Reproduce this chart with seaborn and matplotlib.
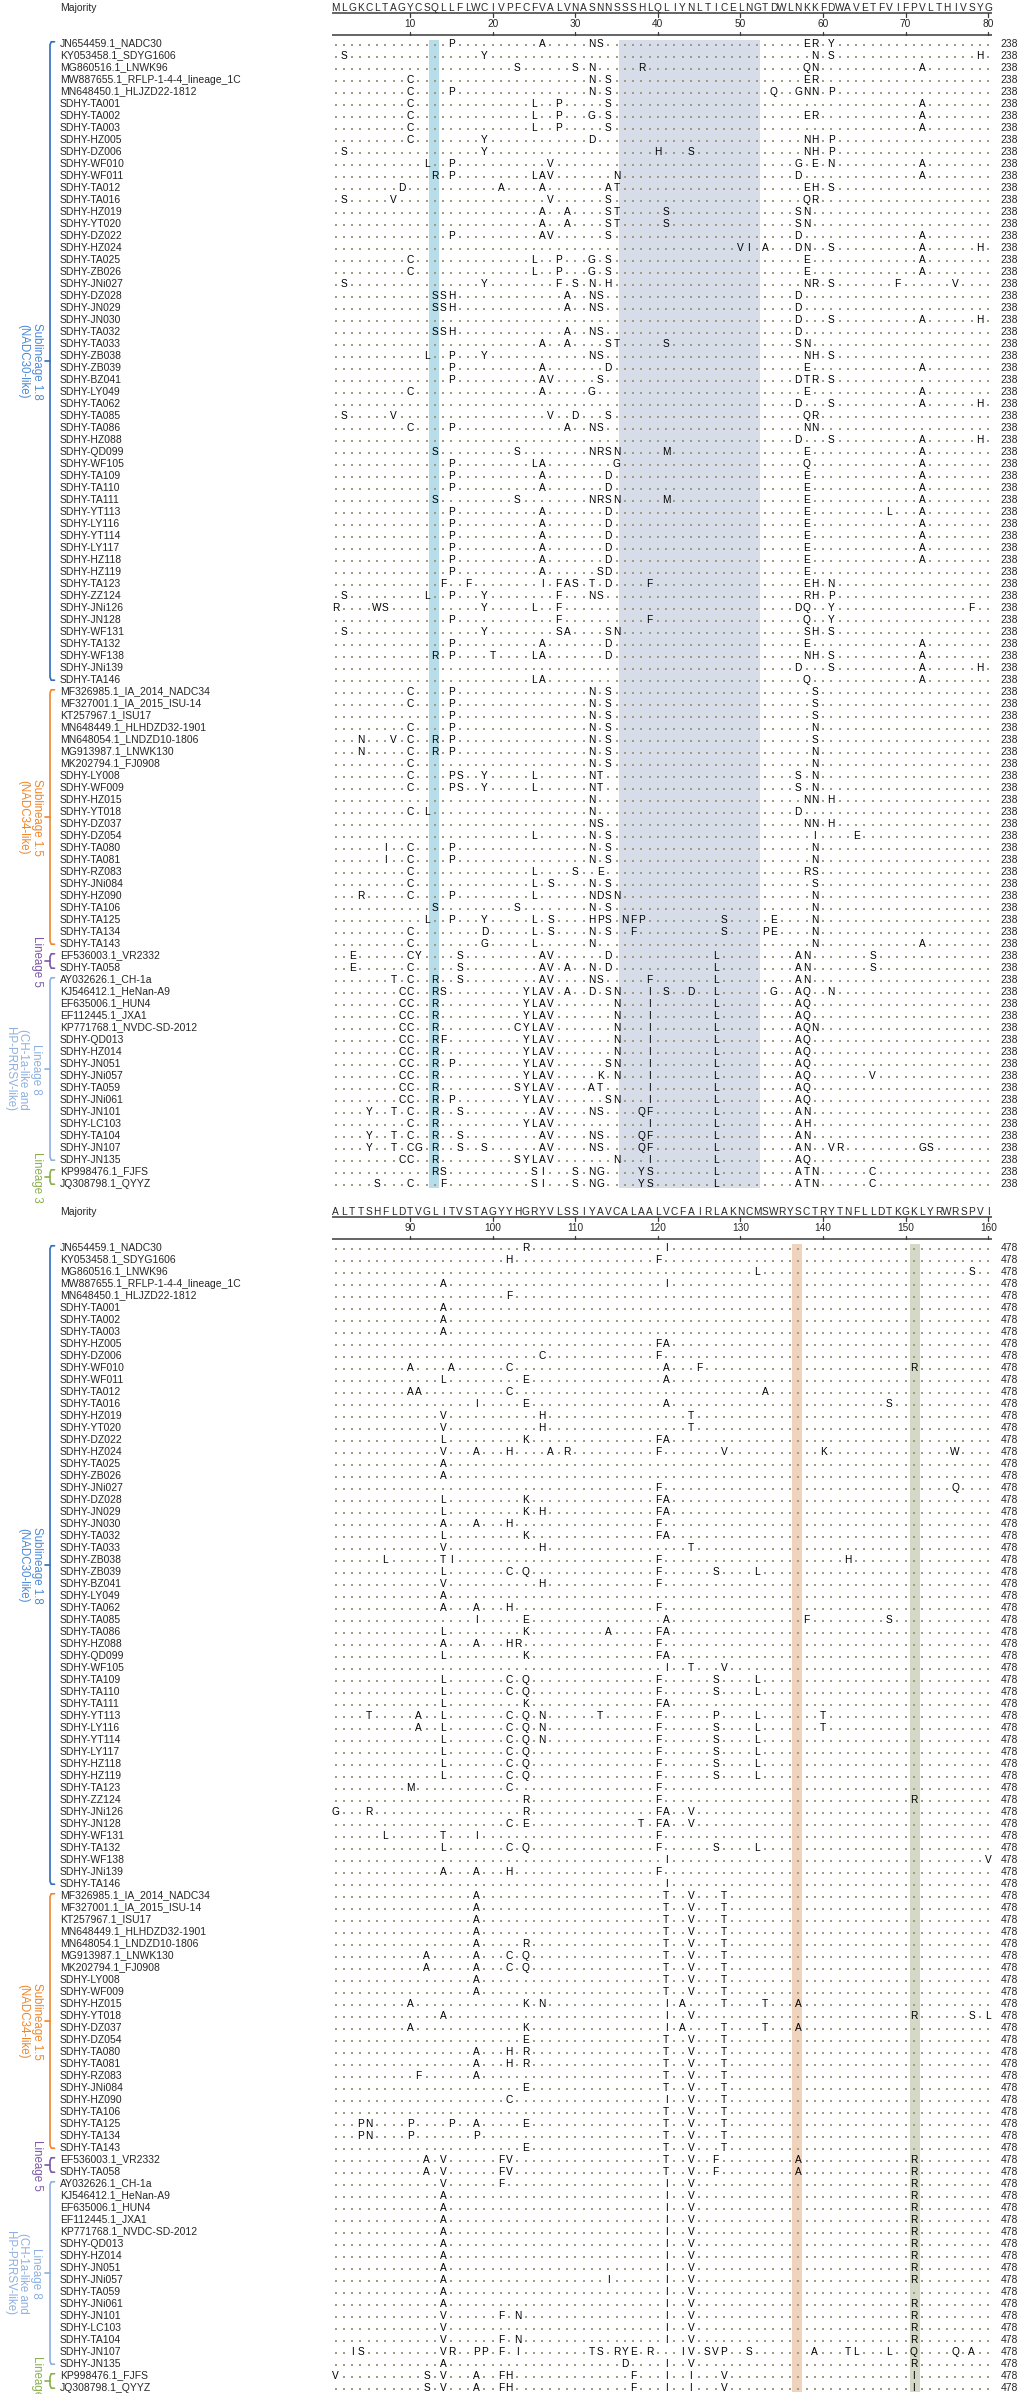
import numpy as np
import pandas as pd
import matplotlib.pyplot as plt
import seaborn as sns

# ------------------------------------------------------------
# Data
# ------------------------------------------------------------

majority_top = "MLGKCLTAGYCSQLLFLWCIVPFCFVALVNASNNSSSHLQLIYNLTICELNGTDWLNKKFDWAVETFVIFPVLTHIVSYG"
majority_bottom = "ALTTSHFLDTVGLITVSTAGYYHGRYVLSSIYAVCALAALVCFAIRLAKNCMSWRYSCTRYTNFLLDTKGKLYRWRSPVI"

end_top = "238"
end_bottom = "478"

names = [
    "JN654459.1_NADC30", "KY053458.1_SDYG1606", "MG860516.1_LNWK96",
    "MW887655.1_RFLP-1-4-4_lineage_1C", "MN648450.1_HLJZD22-1812",
    "SDHY-TA001", "SDHY-TA002", "SDHY-TA003", "SDHY-HZ005", "SDHY-DZ006",
    "SDHY-WF010", "SDHY-WF011", "SDHY-TA012", "SDHY-TA016", "SDHY-HZ019",
    "SDHY-YT020", "SDHY-DZ022", "SDHY-HZ024", "SDHY-TA025", "SDHY-ZB026",
    "SDHY-JNi027", "SDHY-DZ028", "SDHY-JN029", "SDHY-JN030", "SDHY-TA032",
    "SDHY-TA033", "SDHY-ZB038", "SDHY-ZB039", "SDHY-BZ041", "SDHY-LY049",
    "SDHY-TA062", "SDHY-TA085", "SDHY-TA086", "SDHY-HZ088", "SDHY-QD099",
    "SDHY-WF105", "SDHY-TA109", "SDHY-TA110", "SDHY-TA111", "SDHY-YT113",
    "SDHY-LY116", "SDHY-YT114", "SDHY-LY117", "SDHY-HZ118", "SDHY-HZ119",
    "SDHY-TA123", "SDHY-ZZ124", "SDHY-JNi126", "SDHY-JN128", "SDHY-WF131",
    "SDHY-TA132", "SDHY-WF138", "SDHY-JNi139", "SDHY-TA146",
    "MF326985.1_IA_2014_NADC34", "MF327001.1_IA_2015_ISU-14", "KT257967.1_ISU17",
    "MN648449.1_HLHDZD32-1901", "MN648054.1_LNDZD10-1806", "MG913987.1_LNWK130",
    "MK202794.1_FJ0908", "SDHY-LY008", "SDHY-WF009", "SDHY-HZ015", "SDHY-YT018",
    "SDHY-DZ037", "SDHY-DZ054", "SDHY-TA080", "SDHY-TA081", "SDHY-RZ083",
    "SDHY-JNi084", "SDHY-HZ090", "SDHY-TA106", "SDHY-TA125", "SDHY-TA134",
    "SDHY-TA143",
    "EF536003.1_VR2332", "SDHY-TA058",
    "AY032626.1_CH-1a", "KJ546412.1_HeNan-A9", "EF635006.1_HUN4", "EF112445.1_JXA1",
    "KP771768.1_NVDC-SD-2012", "SDHY-QD013", "SDHY-HZ014", "SDHY-JN051",
    "SDHY-JNi057", "SDHY-TA059", "SDHY-JNi061", "SDHY-JN101", "SDHY-LC103",
    "SDHY-TA104", "SDHY-JN107", "SDHY-JN135",
    "KP998476.1_FJFS", "JQ308798.1_QYYZ",
]

# residues differing from the majority, positions 1-80
top_mut = [
    "P15 A26 N32 S33 E58 R59 Y61",
    "S2 Y19 N59 S61 H79",
    "S23 S30 N32 R38 Q58 N59 A72",
    "C10 N32 S34 E58 R59",
    "C10 P15 N32 S34 Q54 G57 N58 N59 P61",
    "C10 L25 P28 S34 A72",
    "C10 L25 P28 G32 S34 E58 R59 A72",
    "C10 L25 P28 S34 A72",
    "C10 Y19 D32 N58 H59 P61",
    "S2 Y19 H40 S44 N58 H59 P61",
    "L12 P15 V27 G57 E59 N61 A72",
    "R13 P15 L25 A26 V27 N35 D57 A72",
    "D9 A21 A26 A34 T35 E58 H59 S61",
    "S2 V8 V27 S34 Q58 R59",
    "A26 A29 S34 T35 S41 S57 N58",
    "A26 A29 S34 T35 S41 S57 N58",
    "P15 A26 V27 S34 D57 A72",
    "V50 I51 A53 D57 N58 S61 A72 H79",
    "C10 L25 P28 G32 S34 E58 A72",
    "C10 L25 P28 G32 S34 E58 A72",
    "S2 Y19 F28 S30 N32 H34 N58 R59 S61 F69 V76",
    "S13 S14 H15 A29 N32 S33 D57",
    "S13 S14 H15 A29 N32 S33 D57",
    "D57 S61 A72 H79",
    "S13 S14 H15 A29 N32 S33 D57",
    "A26 A29 S34 T35 S41 S57 N58",
    "L12 P15 Y19 N32 S33 N58 H59 S61",
    "P15 A26 D34 E58 A72",
    "P15 A26 V27 S33 D57 T58 R59 S61",
    "C10 A26 G32 E58 A72",
    "D57 S61 A72 H79",
    "S2 V8 V27 D30 S34 Q58 R59",
    "C10 P15 A29 N32 S33 N58 N59",
    "D57 S61 A72 H79",
    "S13 S23 N32 R33 S34 N35 M41 E58 A72",
    "P15 L25 A26 G35 Q58 A72",
    "P15 A26 D34 E58 A72",
    "P15 A26 D34 E58 A72",
    "S13 S23 N32 R33 S34 N35 M41 E58 A72",
    "P15 A26 D34 E58 L68 A72",
    "P15 A26 D34 E58 A72",
    "P15 A26 D34 E58 A72",
    "P15 A26 D34 E58 A72",
    "P15 A26 D34 E58 A72",
    "P15 A26 S33 D34 E58",
    "F14 F17 I26 F28 A29 S30 T32 D34 F39 E58 H59 N61",
    "S2 L12 P15 Y19 F28 N32 S33 R58 H59 P61",
    "R1 W6 S7 Y19 L25 F28 D57 Q58 Y61 F78",
    "P15 F28 F39 Q58 Y61",
    "S2 Y19 S28 A29 S34 N35 S58 H59 S61",
    "P15 A26 D34 E58 A72",
    "R13 P15 T20 L25 A26 D34 N58 H59 S61 A72",
    "D57 S61 A72 H79",
    "L25 A26 Q58 A72",
    "C10 P15 N32 S34 S59",
    "C10 P15 N32 S34 S59",
    "P15 N32 S34 S59",
    "C10 P15 N32 S34 N59",
    "N4 V8 C10 R13 P15 N32 S34 S59",
    "N4 C10 R13 P15 N32 S34 N59",
    "C10 N32 S34 N59",
    "C10 P15 S16 Y19 L25 N32 T33 S57 N59",
    "C10 P15 S16 Y19 L25 N32 T33 S57 N59",
    "N32 N58 N59 H61",
    "C10 L12 N32 D57",
    "N32 S33 N58 N59 H61",
    "L25 N32 S34 I59 E64",
    "I7 C10 P15 N32 S34 N59",
    "I7 C10 P15 N32 S34 N59",
    "C10 L25 S30 E33 R58 S59",
    "C10 L25 S27 N32 S34 S59",
    "R4 C10 P15 L25 N32 D33 S34 N35 N59",
    "S13 S23 N32 S34 N59",
    "L12 P15 Y19 L25 S27 H32 P33 S34 N36 F37 P38 S48 E54 N59",
    "C10 D19 L25 S27 N32 S34 F37 S48 P53 E54 N59",
    "C10 G19 L25 N32 N59 A72",
    "E3 C10 Y11 S16 A26 V27 D34 L47 A57 N58 S66",
    "E3 C10 S16 A26 V27 A29 N32 D34 L47 A57 N58 S66",
    "T8 C10 R13 S16 A26 V27 N32 S33 F39 L47 A57 N58",
    "C9 C10 R13 S14 Y24 L25 A26 V27 A29 D32 S34 N35 I39 S41 D44 L47 G54 A57 Q58 N61",
    "C9 C10 R13 Y24 L25 A26 V27 N35 I39 L47 A57 Q58",
    "C9 C10 R13 Y24 L25 A26 V27 N35 I39 L47 A57 Q58",
    "C9 C10 R13 C23 Y24 L25 A26 V27 N35 I39 L47 A57 Q58 N59",
    "C9 C10 R13 F14 Y24 L25 A26 V27 N35 I39 L47 A57 Q58",
    "C9 C10 R13 Y24 L25 A26 V27 N35 I39 L47 A57 Q58",
    "C9 C10 R13 P15 Y24 L25 A26 V27 S34 N35 I39 L47 A57 Q58",
    "C9 C10 R13 Y24 L25 A26 V27 K33 N35 I39 L47 A57 Q58 V66",
    "C9 C10 R13 S23 Y24 L25 A26 V27 A32 T33 I39 L47 A57 Q58",
    "C9 C10 R13 P15 Y24 L25 A26 V27 S34 N35 I39 L47 A57 Q58",
    "Y5 T8 C10 R13 S16 A26 V27 N32 S33 Q38 F39 L47 A57 N58",
    "C10 R13 Y24 L25 A26 V27 I39 L47 A57 H58",
    "Y5 T8 C10 R13 S16 A26 V27 N32 S33 Q38 F39 L47 A57 N58",
    "Y5 T8 C10 G11 R13 S16 S19 A26 V27 N32 S33 Q38 F39 L47 A57 N58 V61 R62 G72 S73",
    "C9 C10 R13 S23 Y24 L25 A26 V27 N35 I39 L47 A57 Q58",
    "R13 S14 S25 I26 S30 N32 G33 Y38 S39 L47 A57 T58 N59 C66",
    "S6 C10 F14 S25 I26 S30 N32 G33 Y38 S39 L47 A57 T58 N59 C66",
]

# residues differing from the majority, positions 81-160
bottom_mut = [
    "R104 I121",
    "H102 F120",
    "L132 S158",
    "A94 I121",
    "F102",
    "A94",
    "A94",
    "A94",
    "F120 A121",
    "C106 F120",
    "A90 A95 C102 A121 F125 R151",
    "L94 E104 A121",
    "A90 A91 C102 A133",
    "I98 E104 A121 S148",
    "V94 H106 T124",
    "V94 H106 T124",
    "L94 K104 F120 A121",
    "V94 A98 H102 A107 R109 F120 V128 K140 W156",
    "A94",
    "A94",
    "F120 Q156",
    "L94 K104 F120 A121",
    "L94 K104 H106 F120 A121",
    "A94 A98 H102 F120",
    "L94 K104 F120 A121",
    "V94 H106 T124",
    "L87 T94 I95 F120 H143",
    "L94 C102 Q104 F120 S127 L132",
    "V94 H106 F120",
    "A94",
    "A94 A98 H102 F120",
    "I98 E104 A121 F138 S148",
    "L94 K104 A114 F120 A121",
    "A94 A98 H102 R103 F120",
    "L94 K104 F120 A121",
    "I121 T124 V128",
    "L94 C102 Q104 F120 S127 L132",
    "L94 C102 Q104 F120 S127 L132",
    "L94 K104 F120 A121",
    "T85 A91 L94 C102 Q104 N106 T113 F120 P127 L132 T140",
    "A91 L94 C102 Q104 N106 F120 S127 L132 T140",
    "L94 C102 Q104 N106 F120 S127 L132",
    "L94 C102 Q104 F120 S127 L132",
    "L94 C102 Q104 F120 S127 L132",
    "L94 C102 Q104 F120 S127 L132",
    "M90 C102 F120",
    "R104 F120 R151",
    "G81 R85 R104 F120 A121 V124",
    "C102 E104 T118 F120 A121 V124",
    "L87 T94 I98 F120",
    "L94 C102 Q104 F120 S127 L132",
    "I121 V160",
    "A94 A98 H102 F120",
    "I121",
    "A98 T121 V124 T128",
    "A98 T121 V124 T128",
    "A98 T121 V124 T128",
    "A98 T121 V124 T128",
    "A98 R104 T121 V124 T128",
    "A92 A98 C102 Q104 T121 V124 T128",
    "A92 A98 C102 Q104 T121 V124 T128",
    "A98 T121 V124 T128",
    "A98 T121 V124 T128",
    "A90 K104 N106 I121 A123 T128 T133 A137",
    "A94 I121 V124 R151 S158 L160",
    "A90 K104 I121 A123 T128 T133 A137",
    "E104 T121 V124 T128",
    "A98 H102 R104 T121 V124 T128",
    "A98 H102 R104 T121 V124 T128",
    "F91 A98 T121 V124 T128",
    "E104 T121 V124 T128",
    "C102 I121 V124 T128",
    "T121 V124 T128",
    "P84 N85 P90 P95 A98 E104 T121 V124 T128",
    "P84 N85 P90 P98 T121 V124 T128",
    "E104 T121 V124 T128",
    "A92 V94 F101 V102 T121 V124 F127 A137 R151",
    "A92 V94 F101 V102 T121 V124 F127 A137 R151",
    "V94 F101 I121 V124 R151",
    "A94 I121 V124 R151",
    "A94 I121 V124 R151",
    "A94 I121 V124 R151",
    "A94 I121 V124 R151",
    "A94 I121 V124 R151",
    "A94 I121 V124 R151",
    "A94 I121 V124 R151",
    "A94 I114 I121 V124 R151",
    "A94 I121 V124",
    "A94 I121 V124 R151",
    "V94 F101 N103 I121 V124 R151",
    "V94 I121 V124 R151",
    "V94 F101 N103 I121 V124 R151",
    "I83 S84 V94 R95 P98 P99 F101 I103 T112 S113 R115 Y116 E117 R119 I123 V124 "
    "S126 V127 P128 S131 A139 T143 L144 L148 Q151 Q156 A158",
    "A94 D116 I121 V124 R151",
    "V81 S92 V94 A98 F101 H102 F117 I121 I124 V128 I151",
    "S92 V94 A98 F101 H102 F117 I121 I124 V128 I151",
]

group_labels = [
    "Sublineage 1.8\n(NADC30-like)",
    "Sublineage 1.5\n(NADC34-like)",
    "Lineage 5",
    "Lineage 8\n(CH-1a-like and\nHP-PRRSV-like)",
    "Lineage 3",
]
group_first = [1, 55, 77, 79, 95]
group_last = [54, 76, 78, 94, 96]
group_line_colors = ["#2f6dbf", "#f0862a", "#7a58a8", "#8db0e0", "#89b04a"]
group_text_colors = ["#4b89d9", "#f0862a", "#7a58a8", "#8db0e0", "#89b04a"]

# highlighted columns
top_bands = [(12.35, 13.55, "#b6dde9"), (35.3, 52.4, "#d6dce8")]
bottom_bands = [(136.25, 137.45, "#f0d3bd"), (150.5, 151.75, "#d3d8c7")]

# ------------------------------------------------------------
# Style
# ------------------------------------------------------------

sns.set_style("white")
plt.rcParams["font.family"] = ["Liberation Sans", "DejaVu Sans"]

DOT = "#a39c82"
LINE = "#3a3a3a"
FS = 7.3
PX0, PITCH = 335.7, 8.26          # pixel of column 1, pixels per column
N_ROWS = len(names)


def parse(s):
    out = {}
    for tok in s.split():
        out[int(tok[1:])] = tok[0]
    return out


def draw_panel(ax, majority, start, mutations, end_label, bands):
    def X(px):
        return start + (px - PX0) / PITCH

    positions = np.arange(start, start + len(majority))
    muts = [parse(m) for m in mutations]

    # background bands
    for x0, x1, col in bands:
        ax.fill_betweenx([0.75, N_ROWS + 0.45], x0, x1, color=col, lw=0, zorder=0)

    # identity dots
    dot_rows = []
    for r, m in enumerate(muts, start=1):
        for p in positions:
            if p not in m:
                dot_rows.append((p, r + 0.2))
    dots = pd.DataFrame(dot_rows, columns=["pos", "row"])
    sns.scatterplot(data=dots, x="pos", y="row", marker="s", s=1.1,
                    color=DOT, linewidth=0, legend=False, ax=ax, zorder=2)

    # substitutions
    for r, m in enumerate(muts, start=1):
        for p, aa in m.items():
            ax.text(p, r + 0.3, aa, ha="center", va="baseline",
                    fontsize=FS, color="black", zorder=3)

    # names and sequence length
    for r, nm in enumerate(names, start=1):
        ax.text(X(60), r + 0.3, nm, ha="left", va="baseline", fontsize=7.5)
        ax.text(X(1009), r + 0.3, end_label, ha="center", va="baseline", fontsize=7.5)

    # header: majority sequence and ruler
    ax.text(X(60), -2.0 + 0.3, "Majority", ha="left", va="baseline", fontsize=7.5)
    for p, aa in zip(positions, majority):
        ax.text(p, -2.0 + 0.3, aa, ha="center", va="baseline", fontsize=FS)
    xa, xb = X(331.5), X(992)
    ax.plot([xa, xb], [-1.48, -1.48], color=LINE, lw=1.1, solid_capstyle="butt")
    ax.plot([xa, xb], [0.33, 0.33], color=LINE, lw=1.1, solid_capstyle="butt")
    for p in positions:
        if p % 10 == 0:
            ax.plot([p, p], [-1.48, -1.2], color=LINE, lw=0.9)
            ax.plot([p, p], [0.33, 0.08], color=LINE, lw=0.9)
            ax.text(p, -0.67 + 0.3, str(p), ha="center", va="baseline", fontsize=FS)

    # lineage brackets
    xl, xh, xm = X(50), X(54.5), X(45)
    for lab, r0, r1, lc, tc in zip(group_labels, group_first, group_last,
                                   group_line_colors, group_text_colors):
        ys = [r0 - 0.1, r0 - 0.1, r0 + 0.15, r1 - 0.15, r1 + 0.1, r1 + 0.1]
        xs = [xh, xl + 0.15, xl, xl, xl + 0.15, xh]
        ax.plot(xs, ys, color=lc, lw=1.2, solid_joinstyle="round")
        mid = (r0 + r1) / 2
        ax.plot([xl, xm], [mid, mid], color=lc, lw=1.2)
        nlines = lab.count("\n") + 1
        ax.text(X(37 - 7 * (nlines - 1)), mid, lab, rotation=270,
                ha="center", va="center", multialignment="center",
                fontsize=8.3, color=tc, linespacing=1.15)

    ax.set_xlim(X(0), X(1020))
    ax.set_ylim(1 + (1190 - 43) / 12, 1 - 43 / 12)
    ax.set_axis_off()


# ------------------------------------------------------------
# Figure
# ------------------------------------------------------------

fig = plt.figure(figsize=(10.2, 23.94), dpi=100)
h = 1190 / 2394
ax_top = fig.add_axes([0, 1 - h, 1, h])
ax_bot = fig.add_axes([0, 0, 1, h])

draw_panel(ax_top, majority_top, 1, top_mut, end_top, top_bands)
draw_panel(ax_bot, majority_bottom, 81, bottom_mut, end_bottom, bottom_bands)

fig.savefig("out.png", dpi=100, facecolor="white")
